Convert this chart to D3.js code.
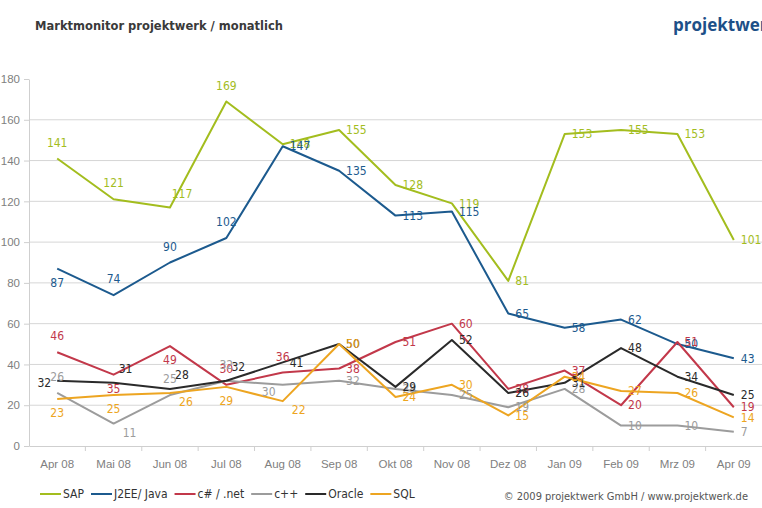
<!DOCTYPE html>
<html>
<head>
<meta charset="utf-8">
<script src="https://cdn.jsdelivr.net/npm/d3@7"></script>
<style>
    body { margin: 0; background: #fff; }
    svg { display: block; font-family: "DejaVu Sans Condensed", "DejaVu Sans", sans-serif; }
    .grid line { stroke: #d6d6d6; stroke-width: 1; }
    .axis path, .axis line { stroke: #cfcfcf; }
    .axis text { fill: #808080; font-size: 11.5px; }
    .label { font-size: 12px; }
</style>
</head>
<body>
<svg id="chart"></svg>
<script>
// data
const months = ['Apr 08', 'Mai 08', 'Jun 08', 'Jul 08', 'Aug 08', 'Sep 08', 'Okt 08',
    'Nov 08', 'Dez 08', 'Jan 09', 'Feb 09', 'Mrz 09', 'Apr 09'];
const seriesNames = ['SAP', 'J2EE/ Java', 'c# / .net', 'c++', 'Oracle', 'SQL'];
const sap    = [141, 121, 117, 169, 148, 155, 128, 119, 81, 153, 155, 153, 101];
const j2ee   = [87, 74, 90, 102, 147, 135, 113, 115, 65, 58, 62, 50, 43];
const csharp = [46, 35, 49, 30, 36, 38, 51, 60, 28, 37, 20, 51, 19];
const cpp    = [26, 11, 25, 32, 30, 32, 28, 25, 19, 28, 10, 10, 7];
const oracle = [32, 31, 28, 32, 41, 50, 29, 52, 26, 31, 48, 34, 25];
const sql    = [23, 25, 26, 29, 22, 50, 24, 30, 15, 34, 27, 26, 14];
const yTicks = [0, 20, 40, 60, 80, 100, 120, 140, 160, 180];

const colors = ['#a3bd1e', '#1c5a8e', '#c2384a', '#9c9c9c', '#2a2a2a', '#eda521'];

// where each value label sits relative to its point
const placement = [
    ['a', 'a', 'ar', 'a', 'r', 'r', 'r', 'r', 'r', 'r', 'r', 'r', 'r'],
    ['b', 'a', 'a', 'a', 'r', 'r', 'r', 'r', 'r', 'r', 'r', 'r', 'r'],
    ['a', 'b', 'b', 'a', 'a', 'r', 'r', 'r', 'r', 'r', 'r', 'r', 'r'],
    ['a', 'br', 'a', 'a', 'bl', 'r', 'r', 'r', 'r', 'r', 'r', 'r', 'r'],
    ['l', 'ar', 'ar', 'ar', 'r', 'r', 'r', 'r', 'r', 'r', 'r', 'r', 'r'],
    ['b', 'b', 'br', 'b', 'br', 'r', 'r', 'r', 'r', 'r', 'r', 'r', 'r']
];
const offsets = {
    a:  { dx: 0,   dy: -16, anchor: 'middle' },
    b:  { dx: 0,   dy: 14,  anchor: 'middle' },
    r:  { dx: 7,   dy: 0,   anchor: 'start' },
    l:  { dx: -6,  dy: 2,   anchor: 'end' },
    ar: { dx: 12,  dy: -14, anchor: 'middle' },
    br: { dx: 16,  dy: 9,   anchor: 'middle' },
    bl: { dx: -14, dy: 7,   anchor: 'middle' }
};

const SERIES = [sap, j2ee, csharp, cpp, oracle, sql].map((values, i) => ({
    name: seriesNames[i],
    color: colors[i],
    points: values.map((v, j) => ({ month: months[j], value: v, pos: placement[i][j] }))
}));

const outerWidth = 762;
const outerHeight = 508;
const margin = { top: 79, left: 29, bottom: 62, right: 0 };
const innerWidth = outerWidth - margin.left - margin.right;
const innerHeight = outerHeight - margin.top - margin.bottom;

const svg = d3.select('#chart')
    .attr('width', outerWidth)
    .attr('height', outerHeight);

svg.append('text')
    .attr('x', 35)
    .attr('y', 30)
    .style('font-family', '"DejaVu Sans", sans-serif')
    .style('font-weight', 'bold')
    .style('font-size', '11.5px')
    .attr('fill', '#3a3a3a')
    .text('Marktmonitor projektwerk / monatlich');

svg.append('text')
    .attr('x', 673)
    .attr('y', 31)
    .style('font-family', '"Open Sans", sans-serif')
    .style('font-weight', 'bold')
    .style('font-size', '17px')
    .attr('fill', '#1d5088')
    .text('projektwerk');

const g = svg.append('g')
    .attr('transform', `translate(${margin.left},${margin.top})`);

const xScale = d3.scaleBand()
    .domain(months)
    .range([0, innerWidth]);
const cx = m => xScale(m) + xScale.bandwidth() / 2;

const yScale = d3.scaleLinear()
    .domain([0, 180])
    .range([innerHeight, 0]);

// gridlines
g.append('g')
    .classed('grid', true)
    .selectAll('line')
    .data(yTicks.filter(t => t > 0 && t < 180))
    .join('line')
        .attr('x1', 0)
        .attr('x2', innerWidth)
        .attr('y1', d => yScale(d))
        .attr('y2', d => yScale(d));

// y axis
const yAxis = d3.axisLeft(yScale)
    .tickValues(yTicks)
    .tickSize(5)
    .tickSizeOuter(0)
    .tickPadding(4);
g.append('g')
    .classed('axis', true)
    .call(yAxis);

// x axis: labels at band centres, ticks at band edges
const xAxis = d3.axisBottom(xScale)
    .tickSize(0)
    .tickPadding(14);
const xAxisG = g.append('g')
    .classed('axis', true)
    .attr('transform', `translate(0,${innerHeight})`)
    .call(xAxis);
xAxisG.select('.domain').attr('stroke', '#cfcfcf');
xAxisG.selectAll('.edge')
    .data(months.slice(1))
    .join('line')
        .classed('edge', true)
        .attr('x1', d => xScale(d))
        .attr('x2', d => xScale(d))
        .attr('y1', 0)
        .attr('y2', 5)
        .attr('stroke', '#cfcfcf');

// lines
const line = d3.line()
    .x(d => cx(d.month))
    .y(d => yScale(d.value));

g.selectAll('.series')
    .data(SERIES)
    .join('path')
        .classed('series', true)
        .attr('fill', 'none')
        .attr('stroke', d => d.color)
        .attr('stroke-width', 2)
        .attr('stroke-linejoin', 'round')
        .attr('d', d => line(d.points));

// value labels
SERIES.forEach(s => {
    g.selectAll(null)
        .data(s.points)
        .join('text')
            .classed('label', true)
            .attr('fill', s.color)
            .attr('text-anchor', d => offsets[d.pos].anchor)
            .attr('x', d => cx(d.month) + offsets[d.pos].dx)
            .attr('y', d => yScale(d.value) + offsets[d.pos].dy)
            .attr('dy', '0.35em')
            .text(d => d.value);
});

// legend
const legend = svg.append('g')
    .attr('transform', 'translate(40,494)');
let lx = 0;
SERIES.forEach(s => {
    const item = legend.append('g').attr('transform', `translate(${lx},0)`);
    item.append('line')
        .attr('x1', 0).attr('x2', 21)
        .attr('stroke', s.color)
        .attr('stroke-width', 2);
    const t = item.append('text')
        .attr('x', 23)
        .attr('dy', '0.35em')
        .attr('fill', '#333')
        .style('font-size', '12px')
        .text(s.name);
    lx += 23 + t.node().getComputedTextLength() + 7;
});

svg.append('text')
    .attr('x', 748)
    .attr('y', 496)
    .attr('dy', '0.35em')
    .attr('text-anchor', 'end')
    .attr('fill', '#555')
    .style('font-size', '11px')
    .text('\u00a9 2009 projektwerk GmbH / www.projektwerk.de');
</script>
</body>
</html>
